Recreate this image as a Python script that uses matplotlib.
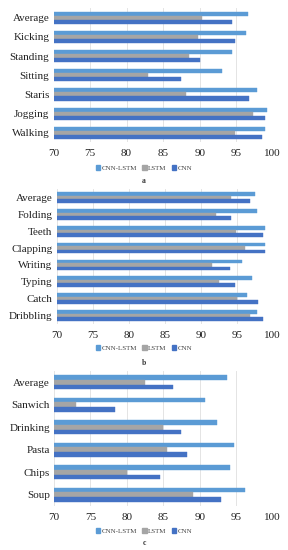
#!/usr/bin/env python3
"""
Three stacked horizontal bar panels: CNN-LSTM vs LSTM vs CNN accuracy.
"""

import matplotlib
matplotlib.use("Agg")
import matplotlib.pyplot as plt
from matplotlib.patches import Patch
import numpy as np


plt.rcParams["font.family"] = ["Liberation Serif", "DejaVu Serif"]

SERIES = ["CNN-LSTM", "LSTM", "CNN"]
COLORS = ["#5b9bd5", "#a5a5a5", "#4472c4"]

# panel a
cats_a = ["Average", "Kicking", "Standing", "Sitting", "Staris", "Jogging", "Walking"]
cnn_lstm_a = [96.6, 96.4, 94.4, 93.1, 97.9, 99.2, 98.9]
lstm_a = [90.3, 89.8, 88.6, 83.0, 88.2, 97.3, 94.8]
cnn_a = [94.4, 94.9, 90.0, 87.5, 96.8, 99.0, 98.6]

# panel b
cats_b = ["Average", "Folding", "Teeth", "Clapping", "Writing", "Typing", "Catch", "Dribbling"]
cnn_lstm_b = [97.6, 97.8, 99.0, 99.0, 95.8, 97.1, 96.4, 97.8]
lstm_b = [94.2, 92.1, 94.9, 96.2, 91.6, 92.5, 95.1, 96.9]
cnn_b = [96.8, 94.2, 98.7, 99.0, 94.1, 94.8, 97.9, 98.6]

# panel c
cats_c = ["Average", "Sanwich", "Drinking", "Pasta", "Chips", "Soup"]
cnn_lstm_c = [93.7, 90.7, 92.4, 94.7, 94.2, 96.2]
lstm_c = [82.5, 73.0, 85.0, 85.5, 80.0, 89.0]
cnn_c = [86.3, 78.4, 87.4, 88.2, 84.5, 92.9]

xticks = [70, 75, 80, 85, 90, 95, 100]

W, H = 288, 550


def draw_panel(fig, box, cats, values, letter, legend_y, letter_y):
    left, top, right, bottom = box
    ax = fig.add_axes([left / W, 1 - bottom / H, (right - left) / W, (bottom - top) / H])
    y = np.arange(len(cats))
    bh = 0.21
    for k, (vals, color) in enumerate(zip(values, COLORS)):
        ax.barh(y + (k - 1) * bh, np.array(vals) - 70, left=70, height=bh,
                color=color, edgecolor=color, linewidth=0.3, zorder=3)
    ax.set_xlim(70, 100)
    ax.set_ylim(len(cats) - 0.5, -0.5)
    ax.set_yticks(y, cats)
    ax.set_xticks(xticks, [str(t) for t in xticks])
    ax.tick_params(axis="both", length=0, labelsize=8, colors="#222222", pad=3)
    ax.tick_params(axis="x", pad=5)
    ax.grid(axis="x", color="#e4e4e4", linewidth=0.7, zorder=0)
    for s in ax.spines.values():
        s.set_visible(False)

    handles = [Patch(facecolor=c, edgecolor=c) for c in COLORS]
    fig.legend(handles, SERIES, loc="center", bbox_to_anchor=(0.5, 1 - legend_y / H),
               ncol=3, frameon=False, fontsize=5, handlelength=0.6, handleheight=0.6,
               handletextpad=0.2, columnspacing=0.8, labelcolor="#444444")
    fig.text(0.5, 1 - letter_y / H, letter, ha="center", va="center",
             fontsize=5.5, fontweight="bold", color="#333333")
    return ax


fig = plt.figure(figsize=(2.88, 5.5), dpi=100)

draw_panel(fig, (53.5, 8, 272.7, 142.5), cats_a, [cnn_lstm_a, lstm_a, cnn_a], "a", 168, 181)
draw_panel(fig, (56.7, 189.3, 272.7, 323.7), cats_b, [cnn_lstm_b, lstm_b, cnn_b], "b", 348, 363)
draw_panel(fig, (54, 371, 272.7, 506), cats_c, [cnn_lstm_c, lstm_c, cnn_c], "c", 531, 543)

fig.savefig("out.png", dpi=100)
plt.close(fig)
